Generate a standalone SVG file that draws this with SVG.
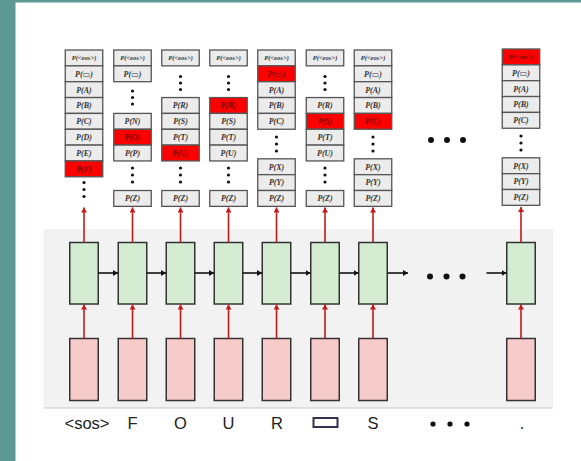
<svg xmlns="http://www.w3.org/2000/svg" width="581" height="461" viewBox="0 0 581 461">
<style>
.c{fill:#ececec;stroke:#555;stroke-width:1.3}
.r{fill:#ff0000;stroke:#555;stroke-width:1.3}
.t{font-family:"Liberation Serif","DejaVu Serif",serif;font-style:italic;font-weight:bold;font-size:8px;text-anchor:middle;fill:#333}
.tr{fill:#7a0000}
.e{font-size:6.6px}
.d{fill:#111}
.g{fill:#d4ecd1;stroke:#333;stroke-width:1.5}
.p{fill:#f8cbcb;stroke:#333;stroke-width:1.5}
.ra{stroke:#c41a1a;stroke-width:1.6;fill:none;marker-end:url(#mr)}
.ba{stroke:#111;stroke-width:1.6;fill:none;marker-end:url(#mb)}
.lb{font-family:"Liberation Sans",Arial,sans-serif;font-size:16.5px;text-anchor:middle;fill:#222}
</style>
<defs>
<marker id="mr" markerUnits="userSpaceOnUse" markerWidth="6" markerHeight="6" refX="5" refY="3" orient="auto"><path d="M0,0 L5,3 L0,6 z" fill="#c41a1a"/></marker>
<marker id="mb" markerUnits="userSpaceOnUse" markerWidth="6" markerHeight="6" refX="5" refY="3" orient="auto"><path d="M0,0 L5,3 L0,6 z" fill="#111"/></marker>
</defs>
<rect width="581" height="461" fill="#ffffff"/>
<rect x="0" y="0" width="15.5" height="461" fill="#5c9995"/>
<rect x="0" y="0" width="581" height="2.5" fill="#5c9995"/>
<rect x="43.5" y="229" width="509.5" height="179" fill="#f2f2f2"/>
<line x1="43.5" y1="408" x2="553" y2="408" stroke="#c8c8c8" stroke-width="1.2"/>

<g id="dist1">
<rect class="c" x="65.25" y="50" width="37.5" height="15.85"/><text class="t e" x="84" y="60.3">P(&lt;eos&gt;)</text>
<rect class="c" x="65.25" y="65.85" width="37.5" height="15.85"/><text class="t" x="84" y="76.6">P(▭)</text>
<rect class="c" x="65.25" y="81.7" width="37.5" height="15.85"/><text class="t" x="84" y="92.5">P(A)</text>
<rect class="c" x="65.25" y="97.55" width="37.5" height="15.85"/><text class="t" x="84" y="108.35">P(B)</text>
<rect class="c" x="65.25" y="113.4" width="37.5" height="15.85"/><text class="t" x="84" y="124.2">P(C)</text>
<rect class="c" x="65.25" y="129.25" width="37.5" height="15.85"/><text class="t" x="84" y="140.05">P(D)</text>
<rect class="c" x="65.25" y="145.1" width="37.5" height="15.85"/><text class="t" x="84" y="155.9">P(E)</text>
<rect class="r" x="65.25" y="160.95" width="37.5" height="15.85"/><text class="t tr" x="84" y="171.75">P(F)</text>
<circle class="d" cx="84" cy="182.5" r="1.6"/><circle class="d" cx="84" cy="189.5" r="1.6"/><circle class="d" cx="84" cy="196.5" r="1.6"/>
</g>

<g id="dist2">
<rect class="c" x="113.75" y="50" width="37.5" height="15.85"/><text class="t e" x="132.5" y="60.3">P(&lt;eos&gt;)</text>
<rect class="c" x="113.75" y="65.85" width="37.5" height="15.85"/><text class="t" x="132.5" y="76.6">P(▭)</text>
<circle class="d" cx="132.5" cy="91" r="1.6"/><circle class="d" cx="132.5" cy="97.5" r="1.6"/><circle class="d" cx="132.5" cy="104" r="1.6"/>
<rect class="c" x="113.75" y="113.4" width="37.5" height="15.85"/><text class="t" x="132.5" y="124.2">P(N)</text>
<rect class="r" x="113.75" y="129.25" width="37.5" height="15.85"/><text class="t tr" x="132.5" y="140.05">P(O)</text>
<rect class="c" x="113.75" y="145.1" width="37.5" height="15.85"/><text class="t" x="132.5" y="155.9">P(P)</text>
<circle class="d" cx="132.5" cy="168" r="1.6"/><circle class="d" cx="132.5" cy="175" r="1.6"/><circle class="d" cx="132.5" cy="182" r="1.6"/>
<rect class="c" x="113.75" y="190.5" width="37.5" height="15.85"/><text class="t" x="132.5" y="201.3">P(Z)</text>
</g>

<g id="dist3">
<rect class="c" x="161.75" y="50" width="37.5" height="15.85"/><text class="t e" x="180.5" y="60.3">P(&lt;eos&gt;)</text>
<circle class="d" cx="180.5" cy="76.5" r="1.6"/><circle class="d" cx="180.5" cy="83" r="1.6"/><circle class="d" cx="180.5" cy="89.5" r="1.6"/>
<rect class="c" x="161.75" y="97.55" width="37.5" height="15.85"/><text class="t" x="180.5" y="108.35">P(R)</text>
<rect class="c" x="161.75" y="113.4" width="37.5" height="15.85"/><text class="t" x="180.5" y="124.2">P(S)</text>
<rect class="c" x="161.75" y="129.25" width="37.5" height="15.85"/><text class="t" x="180.5" y="140.05">P(T)</text>
<rect class="r" x="161.75" y="145.1" width="37.5" height="15.85"/><text class="t tr" x="180.5" y="155.9">P(U)</text>
<circle class="d" cx="180.5" cy="168" r="1.6"/><circle class="d" cx="180.5" cy="175" r="1.6"/><circle class="d" cx="180.5" cy="182" r="1.6"/>
<rect class="c" x="161.75" y="190.5" width="37.5" height="15.85"/><text class="t" x="180.5" y="201.3">P(Z)</text>
</g>

<g id="dist4">
<rect class="c" x="209.75" y="50" width="37.5" height="15.85"/><text class="t e" x="228.5" y="60.3">P(&lt;eos&gt;)</text>
<circle class="d" cx="228.5" cy="76.5" r="1.6"/><circle class="d" cx="228.5" cy="83" r="1.6"/><circle class="d" cx="228.5" cy="89.5" r="1.6"/>
<rect class="r" x="209.75" y="97.55" width="37.5" height="15.85"/><text class="t tr" x="228.5" y="108.35">P(R)</text>
<rect class="c" x="209.75" y="113.4" width="37.5" height="15.85"/><text class="t" x="228.5" y="124.2">P(S)</text>
<rect class="c" x="209.75" y="129.25" width="37.5" height="15.85"/><text class="t" x="228.5" y="140.05">P(T)</text>
<rect class="c" x="209.75" y="145.1" width="37.5" height="15.85"/><text class="t" x="228.5" y="155.9">P(U)</text>
<circle class="d" cx="228.5" cy="168" r="1.6"/><circle class="d" cx="228.5" cy="175" r="1.6"/><circle class="d" cx="228.5" cy="182" r="1.6"/>
<rect class="c" x="209.75" y="190.5" width="37.5" height="15.85"/><text class="t" x="228.5" y="201.3">P(Z)</text>
</g>

<g id="dist5">
<rect class="c" x="257.75" y="50" width="37.5" height="15.85"/><text class="t e" x="276.5" y="60.3">P(&lt;eos&gt;)</text>
<rect class="r" x="257.75" y="65.85" width="37.5" height="15.85"/><text class="t tr" x="276.5" y="76.6">P(▭)</text>
<rect class="c" x="257.75" y="81.7" width="37.5" height="15.85"/><text class="t" x="276.5" y="92.5">P(A)</text>
<rect class="c" x="257.75" y="97.55" width="37.5" height="15.85"/><text class="t" x="276.5" y="108.35">P(B)</text>
<rect class="c" x="257.75" y="113.4" width="37.5" height="15.85"/><text class="t" x="276.5" y="124.2">P(C)</text>
<circle class="d" cx="276.5" cy="137" r="1.6"/><circle class="d" cx="276.5" cy="144" r="1.6"/><circle class="d" cx="276.5" cy="151" r="1.6"/>
<rect class="c" x="257.75" y="158.8" width="37.5" height="15.85"/><text class="t" x="276.5" y="169.6">P(X)</text>
<rect class="c" x="257.75" y="174.65" width="37.5" height="15.85"/><text class="t" x="276.5" y="185.45">P(Y)</text>
<rect class="c" x="257.75" y="190.5" width="37.5" height="15.85"/><text class="t" x="276.5" y="201.3">P(Z)</text>
</g>

<g id="dist6">
<rect class="c" x="306.25" y="50" width="37.5" height="15.85"/><text class="t e" x="325" y="60.3">P(&lt;eos&gt;)</text>
<circle class="d" cx="325" cy="76.5" r="1.6"/><circle class="d" cx="325" cy="83" r="1.6"/><circle class="d" cx="325" cy="89.5" r="1.6"/>
<rect class="c" x="306.25" y="97.55" width="37.5" height="15.85"/><text class="t" x="325" y="108.35">P(R)</text>
<rect class="r" x="306.25" y="113.4" width="37.5" height="15.85"/><text class="t tr" x="325" y="124.2">P(S)</text>
<rect class="c" x="306.25" y="129.25" width="37.5" height="15.85"/><text class="t" x="325" y="140.05">P(T)</text>
<rect class="c" x="306.25" y="145.1" width="37.5" height="15.85"/><text class="t" x="325" y="155.9">P(U)</text>
<circle class="d" cx="325" cy="168" r="1.6"/><circle class="d" cx="325" cy="175" r="1.6"/><circle class="d" cx="325" cy="182" r="1.6"/>
<rect class="c" x="306.25" y="190.5" width="37.5" height="15.85"/><text class="t" x="325" y="201.3">P(Z)</text>
</g>

<g id="dist7">
<rect class="c" x="354.25" y="50" width="37.5" height="15.85"/><text class="t e" x="373" y="60.3">P(&lt;eos&gt;)</text>
<rect class="c" x="354.25" y="65.85" width="37.5" height="15.85"/><text class="t" x="373" y="76.6">P(▭)</text>
<rect class="c" x="354.25" y="81.7" width="37.5" height="15.85"/><text class="t" x="373" y="92.5">P(A)</text>
<rect class="c" x="354.25" y="97.55" width="37.5" height="15.85"/><text class="t" x="373" y="108.35">P(B)</text>
<rect class="r" x="354.25" y="113.4" width="37.5" height="15.85"/><text class="t tr" x="373" y="124.2">P(C)</text>
<circle class="d" cx="373" cy="137" r="1.6"/><circle class="d" cx="373" cy="144" r="1.6"/><circle class="d" cx="373" cy="151" r="1.6"/>
<rect class="c" x="354.25" y="158.8" width="37.5" height="15.85"/><text class="t" x="373" y="169.6">P(X)</text>
<rect class="c" x="354.25" y="174.65" width="37.5" height="15.85"/><text class="t" x="373" y="185.45">P(Y)</text>
<rect class="c" x="354.25" y="190.5" width="37.5" height="15.85"/><text class="t" x="373" y="201.3">P(Z)</text>
</g>

<g id="dist8">
<rect class="r" x="502.25" y="49" width="37.5" height="15.85"/><text class="t e tr" x="521" y="59.3">P(&lt;eos&gt;)</text>
<rect class="c" x="502.25" y="64.85" width="37.5" height="15.85"/><text class="t" x="521" y="75.6">P(▭)</text>
<rect class="c" x="502.25" y="80.7" width="37.5" height="15.85"/><text class="t" x="521" y="91.5">P(A)</text>
<rect class="c" x="502.25" y="96.55" width="37.5" height="15.85"/><text class="t" x="521" y="107.35">P(B)</text>
<rect class="c" x="502.25" y="112.4" width="37.5" height="15.85"/><text class="t" x="521" y="123.2">P(C)</text>
<circle class="d" cx="521" cy="136" r="1.6"/><circle class="d" cx="521" cy="143" r="1.6"/><circle class="d" cx="521" cy="150" r="1.6"/>
<rect class="c" x="502.25" y="157.8" width="37.5" height="15.85"/><text class="t" x="521" y="168.6">P(X)</text>
<rect class="c" x="502.25" y="173.65" width="37.5" height="15.85"/><text class="t" x="521" y="184.45">P(Y)</text>
<rect class="c" x="502.25" y="189.5" width="37.5" height="15.85"/><text class="t" x="521" y="200.3">P(Z)</text>
</g>

<g id="topdots">
<circle class="d" cx="431" cy="140" r="3"/><circle class="d" cx="447" cy="140" r="3"/><circle class="d" cx="463" cy="140" r="3"/>
</g>

<g id="rnn1"><rect class="g" x="69.75" y="242.5" width="28.5" height="61.5"/></g>
<g id="rnn2"><rect class="g" x="118.25" y="242.5" width="28.5" height="61.5"/></g>
<g id="rnn3"><rect class="g" x="166.25" y="242.5" width="28.5" height="61.5"/></g>
<g id="rnn4"><rect class="g" x="214.25" y="242.5" width="28.5" height="61.5"/></g>
<g id="rnn5"><rect class="g" x="262.25" y="242.5" width="28.5" height="61.5"/></g>
<g id="rnn6"><rect class="g" x="310.75" y="242.5" width="28.5" height="61.5"/></g>
<g id="rnn7"><rect class="g" x="358.75" y="242.5" width="28.5" height="61.5"/></g>
<g id="rnn8"><rect class="g" x="506.75" y="242.5" width="28.5" height="61.5"/></g>

<g id="middots">
<circle class="d" cx="430" cy="276.5" r="3"/><circle class="d" cx="446.5" cy="276.5" r="3"/><circle class="d" cx="462.5" cy="276.5" r="3"/>
</g>

<g id="emb1"><rect class="p" x="69.75" y="338.5" width="28.5" height="62"/></g>
<g id="emb2"><rect class="p" x="118.25" y="338.5" width="28.5" height="62"/></g>
<g id="emb3"><rect class="p" x="166.25" y="338.5" width="28.5" height="62"/></g>
<g id="emb4"><rect class="p" x="214.25" y="338.5" width="28.5" height="62"/></g>
<g id="emb5"><rect class="p" x="262.25" y="338.5" width="28.5" height="62"/></g>
<g id="emb6"><rect class="p" x="310.75" y="338.5" width="28.5" height="62"/></g>
<g id="emb7"><rect class="p" x="358.75" y="338.5" width="28.5" height="62"/></g>
<g id="emb8"><rect class="p" x="506.75" y="338.5" width="28.5" height="62"/></g>

<g id="connectors">
<line class="ra" x1="84" y1="242.5" x2="84" y2="207.5"/>
<line class="ra" x1="132.5" y1="242.5" x2="132.5" y2="207.5"/>
<line class="ra" x1="180.5" y1="242.5" x2="180.5" y2="207.5"/>
<line class="ra" x1="228.5" y1="242.5" x2="228.5" y2="207.5"/>
<line class="ra" x1="276.5" y1="242.5" x2="276.5" y2="207.5"/>
<line class="ra" x1="325" y1="242.5" x2="325" y2="207.5"/>
<line class="ra" x1="373" y1="242.5" x2="373" y2="207.5"/>
<line class="ra" x1="521" y1="242.5" x2="521" y2="207"/>
<line class="ra" x1="84" y1="338.5" x2="84" y2="304.5"/>
<line class="ra" x1="132.5" y1="338.5" x2="132.5" y2="304.5"/>
<line class="ra" x1="180.5" y1="338.5" x2="180.5" y2="304.5"/>
<line class="ra" x1="228.5" y1="338.5" x2="228.5" y2="304.5"/>
<line class="ra" x1="276.5" y1="338.5" x2="276.5" y2="304.5"/>
<line class="ra" x1="325" y1="338.5" x2="325" y2="304.5"/>
<line class="ra" x1="373" y1="338.5" x2="373" y2="304.5"/>
<line class="ra" x1="521" y1="338.5" x2="521" y2="304.5"/>
<line class="ba" x1="98.25" y1="273" x2="118" y2="273"/>
<line class="ba" x1="146.75" y1="273" x2="166" y2="273"/>
<line class="ba" x1="194.75" y1="273" x2="214" y2="273"/>
<line class="ba" x1="242.75" y1="273" x2="262" y2="273"/>
<line class="ba" x1="290.75" y1="273" x2="310.5" y2="273"/>
<line class="ba" x1="339.25" y1="273" x2="358.5" y2="273"/>
<line class="ba" x1="387.25" y1="273" x2="408" y2="273"/>
<line class="ba" x1="486.5" y1="273" x2="506.5" y2="273"/>
</g>

<g id="labels">
<text class="lb" x="87" y="429">&lt;sos&gt;</text>
<text class="lb" x="132.5" y="429">F</text>
<text class="lb" x="180.5" y="429">O</text>
<text class="lb" x="228.5" y="429">U</text>
<text class="lb" x="277" y="429">R</text>
<rect x="313.5" y="418" width="24" height="9" fill="none" stroke="#33334d" stroke-width="2"/>
<text class="lb" x="373" y="429">S</text>
<circle class="d" cx="433" cy="424" r="2.6"/><circle class="d" cx="450" cy="424" r="2.6"/><circle class="d" cx="467" cy="424" r="2.6"/>
<text class="lb" x="522" y="429">.</text>
</g>
</svg>
